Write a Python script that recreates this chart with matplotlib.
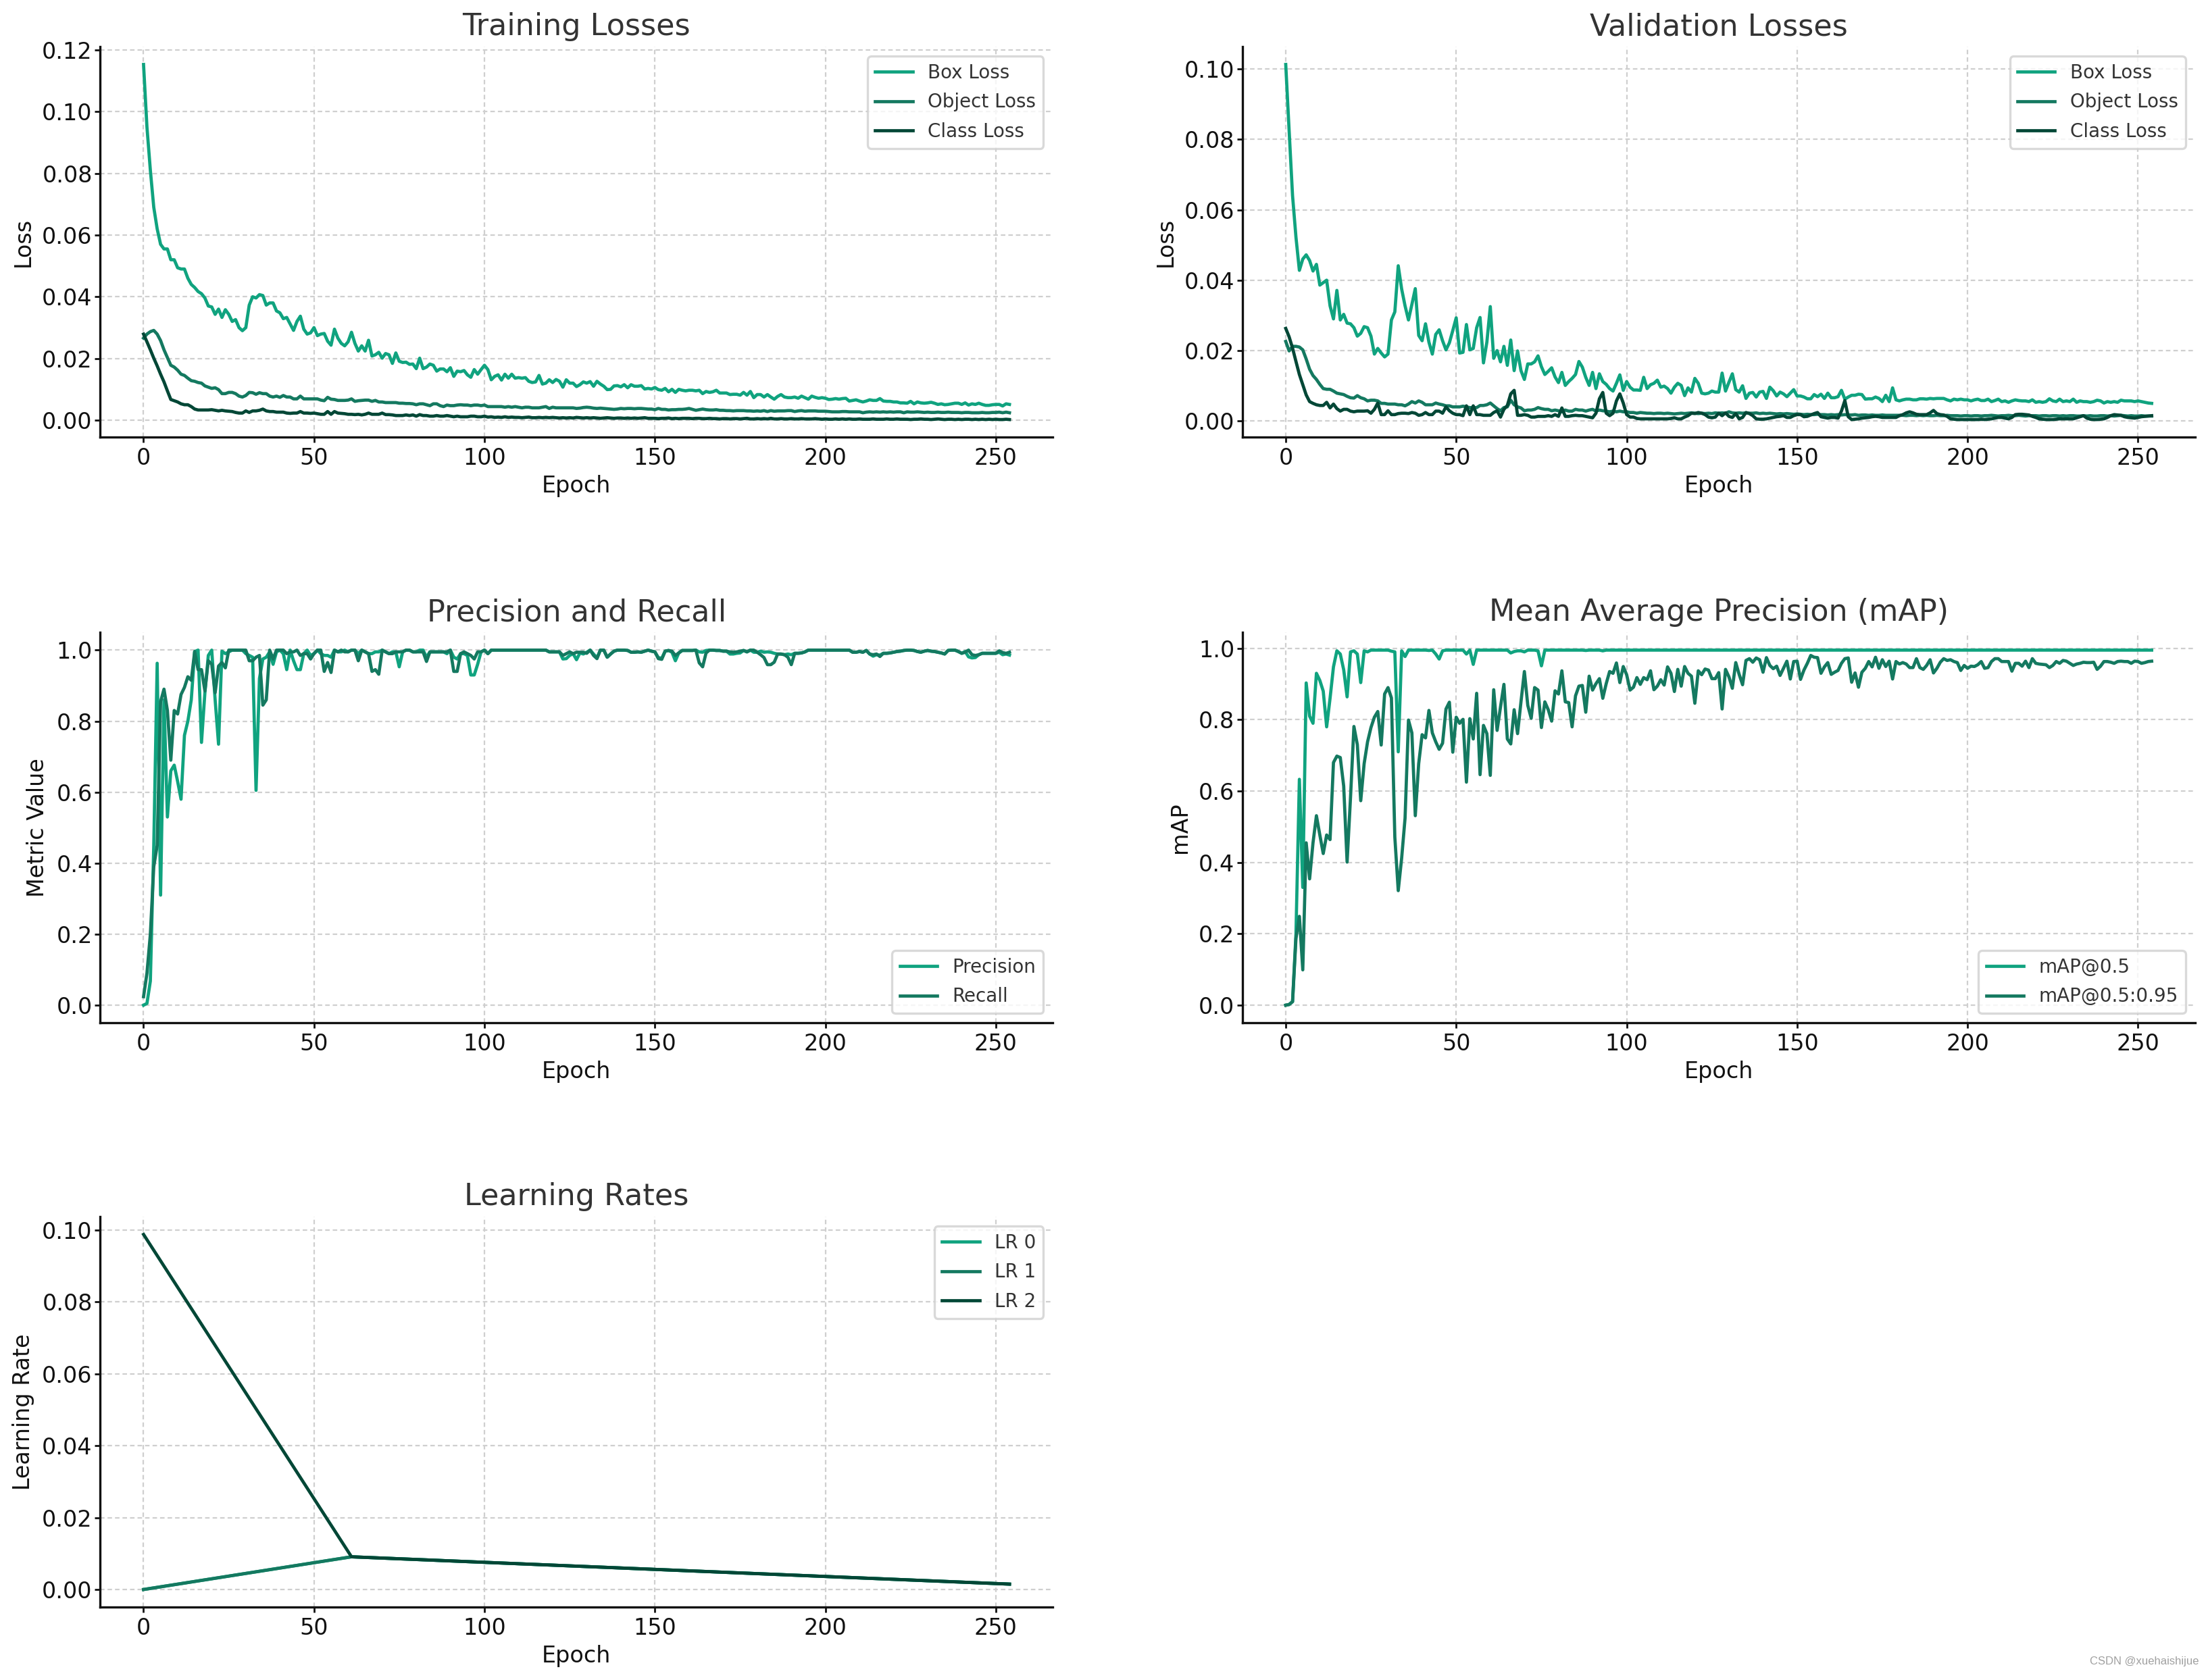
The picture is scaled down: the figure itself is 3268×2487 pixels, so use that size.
import matplotlib
matplotlib.use("Agg")
import matplotlib.pyplot as plt
import numpy as np

# ---------------- data ----------------
epochs = list(range(255))

train_box = [
0.1153,0.095,0.081,0.069,0.062,0.057,0.0555,0.0555,0.052,0.052,
0.0494,0.049,0.049,0.046,0.044,0.043,0.0417,0.041,0.0396,0.037,
0.0367,0.0343,0.036,0.0333,0.0358,0.0343,0.032,0.0326,0.030,0.029,
0.030,0.0373,0.040,0.0396,0.0407,0.0404,0.0373,0.038,0.038,0.0354,
0.0348,0.0329,0.0333,0.0312,0.0291,0.032,0.0337,0.0295,0.0279,0.0283,
0.030,0.0274,0.0279,0.0281,0.0256,0.0243,0.0295,0.0266,0.0249,0.0241,
0.0254,0.0285,0.0249,0.0224,0.0241,0.0224,0.0259,0.0208,0.0212,0.022,
0.0201,0.0216,0.0212,0.0184,0.0218,0.0191,0.0187,0.0188,0.0181,0.0182,
0.0167,0.0201,0.0167,0.0172,0.0182,0.0178,0.0159,0.0166,0.0166,0.0157,
0.017,0.0142,0.0159,0.0157,0.0161,0.0147,0.0139,0.0164,0.0149,0.0164,
0.0178,0.0164,0.0131,0.0142,0.0147,0.013,0.0149,0.0136,0.0149,0.0136,
0.0138,0.0136,0.0138,0.0126,0.0122,0.0124,0.0145,0.0117,0.012,0.0131,
0.0122,0.0132,0.0126,0.0107,0.0131,0.012,0.012,0.0109,0.0115,0.0124,
0.012,
0.0125,0.011,0.0126,0.0117,0.011,0.0099,0.0100,0.0111,0.0112,0.0108,
0.0115,0.0105,0.0115,0.011,0.011,0.0112,0.0101,0.0103,0.0101,0.0106,
0.0099,0.0097,0.0103,0.0092,0.0100,0.009,0.0100,0.0097,0.0095,0.0097,
0.0097,0.0095,0.0097,0.0086,0.0093,0.009,0.0092,0.0097,0.0088,0.0088,
0.0088,0.0083,0.0084,0.0084,0.0081,0.009,0.0081,0.0093,0.0073,0.0083,
0.0083,0.0075,0.0083,0.0075,0.0068,0.0077,0.0083,0.0075,0.0073,0.0073,
0.0075,0.0071,0.0078,0.0073,0.0068,0.0078,0.0074,0.0071,0.0073,0.0071,
0.0067,0.0068,0.007,0.0068,0.007,0.0071,0.0062,0.0064,0.0066,0.0062,
0.0059,0.0062,0.0066,0.0064,0.0064,0.007,0.0062,0.0061,0.0061,0.0059,
0.0059,0.0056,0.0056,0.0055,0.0061,0.0053,0.0059,0.0056,0.0055,0.0056,
0.0058,0.0055,0.0051,0.0053,0.005,0.0051,0.0053,0.0055,0.0055,0.0051,
0.0056,0.0049,0.0053,0.0051,0.0055,0.0051,0.0048,0.0048,0.005,0.0051,
0.0051,0.0046,0.0053,0.0051]

train_obj = [
0.0266,0.0279,0.0287,0.0291,0.0279,0.0258,0.0228,0.0203,0.0178,0.0172,
0.0162,0.0149,0.0145,0.0136,0.0128,0.0126,0.0122,0.012,0.0111,0.0107,
0.0103,0.0105,0.0099,0.0086,0.0086,0.009,0.009,0.0086,0.0078,0.0075,
0.008,0.009,0.0089,0.0084,0.0089,0.0086,0.0086,0.0078,0.0075,0.0078,
0.0074,0.008,0.0075,0.0075,0.0069,0.0069,0.0078,0.0069,0.0069,0.0069,
0.0069,0.0069,0.0065,0.0063,0.0074,0.0068,0.0067,0.0064,0.0064,0.0064,
0.0065,0.0069,0.0061,0.0063,0.0064,0.0065,0.0065,0.0061,0.0064,0.0059,
0.0059,0.0057,0.0057,0.0057,0.0057,0.0055,0.0055,0.0054,0.0054,0.0053,
0.005,0.0053,0.0053,0.005,0.0047,0.0053,0.0053,0.0047,0.0044,0.0049,
0.0047,0.0047,0.0049,0.005,0.0049,0.0049,0.0047,0.0049,0.0049,0.0047,
0.0049,0.0044,0.0044,0.0044,0.0044,0.0044,0.0042,0.0044,0.0042,0.0044,
0.0042,0.004,0.0042,0.0042,0.004,0.004,0.004,0.0042,0.0044,0.0038,
0.0042,0.004,0.004,0.004,0.004,0.004,0.004,0.0038,0.0039,0.0041,
0.0042,0.0041,0.0039,0.0038,0.0039,0.0038,0.0037,0.0036,0.0035,0.0036,
0.0038,0.0037,0.0038,0.0038,0.0037,0.0038,0.0038,0.0037,0.0036,0.0036,
0.0034,0.0038,0.0035,0.0035,0.0033,0.0034,0.0034,0.0035,0.0035,0.0036,
0.0038,0.0035,0.0032,0.0034,0.0036,0.0034,0.0033,0.0033,0.0034,0.0032,
0.0032,0.0031,0.0031,0.003,0.0031,0.0031,0.0031,0.003,0.003,0.0029,
0.003,0.0029,0.0031,0.0028,0.0031,0.0029,0.003,0.003,0.003,0.0031,
0.0031,0.0028,0.003,0.0031,0.0029,0.003,0.003,0.003,0.0029,0.0029,
0.0029,0.0028,0.0027,0.0027,0.0027,0.0028,0.0028,0.0027,0.0027,0.0027,
0.0027,0.0024,0.0026,0.0027,0.0026,0.0027,0.0026,0.0027,0.0026,0.0027,
0.0026,0.0027,0.0027,0.0024,0.0027,0.0026,0.0026,0.0027,0.0026,0.0025,
0.0026,0.0025,0.0025,0.0026,0.0025,0.0025,0.0026,0.0025,0.0025,0.0025,
0.0024,0.0025,0.0025,0.0024,0.0024,0.0024,0.0025,0.0024,0.0024,0.0025,
0.0025,0.0026,0.0024,0.0026,0.0024]

train_cls = [
0.0279,0.0254,0.0228,0.0201,0.0176,0.0149,0.0124,0.0095,0.0067,0.0063,
0.0059,0.0053,0.005,0.005,0.0044,0.0036,0.0033,0.0033,0.0033,0.0033,
0.0034,0.0032,0.003,0.0032,0.003,0.0029,0.0028,0.0025,0.0023,0.0023,
0.003,0.0025,0.003,0.003,0.0032,0.0036,0.003,0.0028,0.0028,0.0026,
0.0026,0.0026,0.0023,0.0022,0.0023,0.0023,0.0028,0.0023,0.0023,0.0022,
0.0023,0.0021,0.0019,0.0019,0.0028,0.0019,0.0028,0.0023,0.0022,0.0021,
0.0019,0.0019,0.0018,0.0019,0.0017,0.0019,0.0023,0.0019,0.0019,0.0019,
0.0023,0.0018,0.0018,0.0017,0.0015,0.0015,0.0015,0.0017,0.0015,0.0017,
0.0013,0.0018,0.0015,0.0015,0.0013,0.0013,0.0015,0.0013,0.0013,0.0015,
0.0013,0.0011,0.0013,0.0011,0.0011,0.0011,0.0013,0.0013,0.0011,0.0011,
0.0013,0.001,0.0011,0.0009,0.001,0.0009,0.0011,0.0009,0.001,0.0009,
0.0009,0.0008,0.0009,0.001,0.0008,0.0008,0.0009,0.0008,0.0009,0.0008,
0.0009,0.0008,0.0007,0.0008,0.0007,0.0008,0.0007,0.0009,0.0008,0.0007,
0.0008,0.0007,0.0008,0.0007,0.0006,0.0007,0.0008,0.0007,0.0006,0.0007,
0.0007,0.0006,0.0007,0.0006,0.0007,0.0006,0.0007,0.0008,0.0006,0.0006,
0.0006,0.0005,0.0006,0.0006,0.0007,0.0005,0.0006,0.0005,0.0006,0.0006,
0.0006,0.0005,0.0006,0.0006,0.0005,0.0005,0.0006,0.0005,0.0005,0.0004,
0.0005,0.0005,0.0004,0.0005,0.0005,0.0004,0.0005,0.0006,0.0004,0.0004,
0.0005,0.0004,0.0005,0.0004,0.0006,0.0004,0.0004,0.0005,0.0004,0.0004,
0.0005,0.0004,0.0004,0.0005,0.0004,0.0004,0.0004,0.0005,0.0004,0.0003,
0.0004,0.0003,0.0003,0.0004,0.0003,0.0004,0.0003,0.0004,0.0003,0.0003,
0.0004,0.0003,0.0003,0.0003,0.0004,0.0003,0.0003,0.0003,0.0004,0.0003,
0.0003,0.0004,0.0003,0.0003,0.0003,0.0002,0.0003,0.0003,0.0004,0.0003,
0.0003,0.0002,0.0003,0.0004,0.0003,0.0002,0.0003,0.0003,0.0002,0.0003,
0.0002,0.0003,0.0003,0.0002,0.0003,0.0002,0.0003,0.0002,0.0003,0.0002,
0.0003,0.0002,0.0002,0.0003,0.0002]

val_box = [
0.1013,0.0824,0.064,0.0522,0.0428,0.046,0.0472,0.0456,0.0426,0.0445,
0.0386,0.0393,0.04,0.0327,0.029,0.0371,0.0287,0.0303,0.0278,0.0276,
0.0265,0.0241,0.0249,0.0268,0.0265,0.0241,0.019,0.0206,0.0193,0.0182,
0.019,0.0287,0.031,0.0441,0.0375,0.0327,0.0287,0.0331,0.0376,0.0243,
0.0228,0.0276,0.0224,0.019,0.0246,0.0259,0.0228,0.0202,0.0222,0.0257,
0.0293,0.0193,0.0195,0.0274,0.0202,0.0206,0.0265,0.0294,0.0165,0.0224,
0.0325,0.0178,0.02,0.0168,0.0212,0.0158,0.023,0.0143,0.0199,0.0143,
0.0118,0.0162,0.0162,0.0168,0.0185,0.0154,0.0132,0.0141,0.0151,0.0125,
0.0109,0.0138,0.0101,0.0112,0.0121,0.0132,0.0169,0.0153,0.0124,0.0101,
0.0138,0.0092,0.0134,0.0112,0.0104,0.0092,0.0085,0.0107,0.0131,0.0087,
0.0112,0.0096,0.0088,0.0088,0.0087,0.0124,0.0092,0.0103,0.0107,0.0116,
0.0096,0.0099,0.0092,0.0079,0.0096,0.0107,0.0101,0.0072,0.0094,0.0082,
0.0121,0.0107,0.0079,0.0077,0.0079,0.0085,0.0082,0.0082,0.0136,0.0085,
0.011,0.0134,0.0089,0.0082,0.01,0.0064,0.0079,0.0081,0.0068,0.0082,
0.0084,0.0064,0.0096,0.0086,0.0071,0.0082,0.0077,0.0069,0.0079,0.0089,
0.0071,0.0071,0.0068,0.0063,0.0063,0.0075,0.0069,0.0076,0.0064,0.0079,
0.0066,0.0066,0.0069,0.0087,0.0062,0.0068,0.0073,0.0073,0.0076,0.0075,
0.0062,0.0063,0.0063,0.0068,0.0064,0.0055,0.0073,0.0055,0.0094,0.006,
0.0057,0.006,0.0062,0.0062,0.006,0.006,0.0063,0.0063,0.0062,0.0064,
0.0063,0.0064,0.0064,0.0064,0.006,0.0057,0.0062,0.006,0.0062,0.006,
0.006,0.0057,0.006,0.0062,0.0058,0.0058,0.0062,0.0055,0.0058,0.0062,
0.0055,0.0057,0.0053,0.0057,0.006,0.0058,0.0057,0.0057,0.0055,0.006,
0.0053,0.0055,0.0053,0.0055,0.0063,0.0057,0.0055,0.0062,0.0055,0.0057,
0.0055,0.0062,0.0053,0.0057,0.0055,0.0055,0.0053,0.0055,0.0059,0.0057,
0.0051,0.0055,0.0053,0.0055,0.0053,0.0059,0.0057,0.0057,0.0057,0.0055,
0.0057,0.0055,0.0053,0.0051,0.005]

val_obj = [
0.0226,0.0199,0.0212,0.0212,0.021,0.0202,0.0176,0.0147,0.0129,0.0118,
0.0104,0.0092,0.009,0.009,0.0085,0.0079,0.0077,0.0075,0.007,0.0066,
0.0065,0.0072,0.0066,0.0063,0.0057,0.0059,0.0059,0.0057,0.005,0.005,
0.0048,0.0048,0.0048,0.0046,0.0046,0.0043,0.0048,0.0055,0.0051,0.0057,
0.0053,0.0046,0.0046,0.0046,0.0051,0.0048,0.0046,0.0043,0.0043,0.004,
0.004,0.004,0.0042,0.004,0.0038,0.0038,0.0038,0.0044,0.0044,0.0046,
0.0051,0.0043,0.0035,0.0029,0.0038,0.004,0.0059,0.0046,0.004,0.0037,
0.0029,0.0031,0.0031,0.0033,0.0038,0.0035,0.0033,0.0033,0.0029,0.0031,
0.0029,0.0026,0.0031,0.0028,0.0028,0.0033,0.0031,0.0031,0.0028,0.0031,
0.0033,0.0028,0.0031,0.0029,0.0028,0.0026,0.0028,0.0026,0.0028,0.0026,
0.0026,0.0024,0.0024,0.0022,0.0024,0.0023,0.0022,0.0022,0.0021,0.0022,
0.0022,0.0021,0.0022,0.0021,0.002,0.0021,0.0022,0.0021,0.0022,0.0023,
0.0022,0.0021,0.0022,0.0021,0.0022,0.0021,0.0023,0.0022,0.0023,0.0022,
0.0026,0.0023,0.0022,0.0023,0.0022,0.0023,0.0022,0.0022,0.0023,0.0021,
0.0022,0.0021,0.0022,0.0021,0.002,0.0021,0.002,0.0021,0.002,0.0019,
0.002,0.0019,0.0018,0.0019,0.0018,0.0018,0.0019,0.0018,0.0018,0.0017,
0.0018,0.0017,0.0018,0.0017,0.0018,0.0017,0.0017,0.0018,0.0016,0.0017,
0.0017,0.0016,0.0017,0.0016,0.0016,0.0017,0.0016,0.0016,0.0016,0.0016,
0.0016,0.0016,0.0015,0.0016,0.0016,0.0015,0.0016,0.0015,0.0016,0.0015,
0.0015,0.0016,0.0015,0.0015,0.0016,0.0015,0.0015,0.0015,0.0014,0.0015,
0.0015,0.0014,0.0015,0.0015,0.0014,0.0015,0.0015,0.0016,0.0015,0.0014,
0.0015,0.0015,0.0016,0.0015,0.0015,0.0016,0.0015,0.0014,0.0015,0.0015,
0.0015,0.0014,0.0015,0.0015,0.0014,0.0015,0.0015,0.0014,0.0015,0.0014,
0.0015,0.0015,0.0014,0.0014,0.0015,0.0014,0.0015,0.0014,0.0014,0.0015,
0.0015,0.0014,0.0015,0.0014,0.0015,0.0016,0.0015,0.0014,0.0015,0.0014,
0.0014,0.0015,0.0014,0.0014,0.0014]

val_cls = [
0.0263,0.0239,0.0207,0.0169,0.0132,0.0103,0.0074,0.0055,0.005,0.0046,
0.0044,0.0044,0.0053,0.0037,0.0048,0.0035,0.0028,0.0033,0.0033,0.0028,
0.0026,0.0028,0.0028,0.0028,0.0029,0.0022,0.0033,0.0051,0.0018,0.0018,
0.0029,0.0018,0.0018,0.0021,0.0022,0.0022,0.0021,0.0024,0.0022,0.0016,
0.0018,0.0024,0.0018,0.0018,0.0028,0.0028,0.0022,0.004,0.0029,0.0022,
0.0018,0.0018,0.0015,0.0043,0.0018,0.0043,0.0018,0.0018,0.0016,0.0016,
0.0016,0.0024,0.0029,0.0011,0.0033,0.0044,0.0077,0.0087,0.0016,0.0016,
0.0018,0.0016,0.0011,0.0011,0.0013,0.0013,0.0013,0.0015,0.0013,0.0018,
0.0013,0.0037,0.0013,0.0013,0.0015,0.0016,0.0015,0.0015,0.0013,0.0011,
0.0009,0.0022,0.0063,0.0081,0.0022,0.0015,0.0022,0.0057,0.0077,0.0051,
0.0018,0.0011,0.0011,0.0007,0.0006,0.0006,0.0006,0.0006,0.0006,0.0006,
0.0006,0.0006,0.0006,0.0007,0.0009,0.0006,0.0006,0.0011,0.0015,0.0022,
0.0021,0.0024,0.0022,0.0018,0.0011,0.0009,0.0011,0.0022,0.0015,0.0023,
0.0013,0.001,0.0021,0.0006,0.001,0.0024,0.0021,0.0015,0.0006,0.0005,
0.0005,0.0006,0.0008,0.001,0.0012,0.0013,0.0015,0.001,0.001,0.0015,
0.0018,0.0018,0.0012,0.0013,0.0017,0.0021,0.0024,0.0012,0.001,0.0008,
0.001,0.001,0.0008,0.0028,0.0058,0.0012,0.0004,0.0005,0.0006,0.0008,
0.0009,0.001,0.0012,0.0013,0.0012,0.001,0.001,0.001,0.001,0.001,
0.0015,0.0018,0.0023,0.0026,0.0023,0.0019,0.0018,0.0018,0.0018,0.0023,
0.003,0.0021,0.0018,0.0017,0.0013,0.0006,0.0005,0.0004,0.0004,0.0004,
0.0004,0.0004,0.0004,0.0004,0.0005,0.0004,0.0005,0.0006,0.0008,0.001,
0.001,0.0008,0.0006,0.001,0.0018,0.0019,0.0019,0.0018,0.0017,0.0013,
0.001,0.0006,0.0005,0.0004,0.0004,0.0004,0.0005,0.0006,0.0006,0.0006,
0.0006,0.0006,0.0009,0.0012,0.0015,0.0008,0.0005,0.0004,0.0004,0.0005,
0.0006,0.001,0.0015,0.0018,0.0017,0.0016,0.0012,0.001,0.0009,0.0008,
0.001,0.0012,0.0013,0.0014,0.0015]

precision = [
0.0,0.005,0.068,0.45,0.963,0.31,0.86,0.53,0.66,0.676,
0.63,0.58,0.76,0.80,0.86,0.996,1.0,0.74,0.88,0.985,
1.0,0.86,0.735,0.997,0.99,0.995,1.0,1.0,1.0,1.0,
0.99,0.985,0.98,0.605,0.92,0.975,0.98,0.995,0.96,0.995,
1.0,0.99,0.945,1.0,0.97,0.945,0.945,0.99,1.0,0.985,
0.99,1.0,0.99,0.985,0.985,0.98,1.0,0.995,0.995,1.0,
0.995,1.0,1.0,0.99,1.0,0.995,0.99,0.99,0.995,0.995,
1.0,0.995,0.99,0.995,0.995,0.953,0.995,1.0,1.0,0.995,
0.995,1.0,1.0,0.98,0.995,0.995,0.995,0.995,0.995,0.99,
1.0,0.98,0.975,0.99,0.99,0.985,0.93,0.93,0.96,0.995,
1.0,0.99,1.0,1.0,1.0,1.0,1.0,1.0,1.0,1.0,
1.0,1.0,1.0,1.0,1.0,1.0,1.0,1.0,1.0,0.995,
0.995,0.995,0.995,0.975,0.976,0.985,0.99,0.973,0.992,0.989,
0.994,1.0,0.989,0.978,1.0,1.0,0.98,0.989,0.997,1.0,
1.0,1.0,0.999,0.994,0.994,0.995,0.994,0.997,1.0,0.997,
0.995,0.979,0.977,0.997,0.999,0.994,0.97,0.992,0.999,0.999,
0.999,0.999,1.0,0.995,0.994,0.999,1.0,1.0,0.999,0.999,
0.997,0.997,0.989,0.989,0.991,0.992,0.999,0.995,1.0,0.994,
0.994,0.997,0.994,0.995,0.994,0.991,0.989,0.989,0.987,0.989,
0.987,0.991,0.991,0.992,0.995,1.0,1.0,1.0,1.0,1.0,
1.0,1.0,1.0,1.0,1.0,1.0,1.0,1.0,0.994,0.994,
0.996,0.994,0.999,0.989,0.983,0.987,0.986,0.991,0.991,0.992,
0.994,0.996,0.997,0.999,1.0,1.0,0.999,0.996,0.994,0.997,
0.999,0.997,0.996,0.994,0.992,0.989,0.999,1.0,1.0,0.996,
0.991,0.996,0.981,0.978,0.979,0.987,0.991,0.991,0.991,0.991,
0.991,0.994,0.987,0.989,0.986]

recall = [
0.024,0.09,0.2,0.39,0.45,0.855,0.89,0.83,0.69,0.83,
0.82,0.875,0.895,0.925,0.915,0.996,0.945,0.945,0.885,0.97,
0.96,0.88,0.955,0.965,0.95,1.0,1.0,1.0,1.0,1.0,
1.0,0.97,0.97,0.98,0.985,0.845,0.86,1.0,0.975,1.0,
1.0,1.0,0.99,0.995,0.995,1.0,0.985,0.99,0.99,0.975,
0.99,1.0,1.0,0.94,0.965,0.937,1.0,0.995,1.0,0.995,
0.995,1.0,1.0,0.97,1.0,0.995,0.99,0.94,0.945,0.932,
1.0,0.995,0.99,0.99,0.995,0.995,0.995,1.0,1.0,0.995,
0.995,0.995,0.995,0.968,0.995,0.995,0.995,0.995,0.995,0.995,
1.0,0.94,0.94,0.99,0.995,0.99,0.985,0.975,0.995,0.995,
1.0,0.99,1.0,1.0,1.0,1.0,1.0,1.0,1.0,1.0,
1.0,1.0,1.0,1.0,1.0,1.0,1.0,1.0,1.0,0.995,
0.995,0.995,0.995,0.985,0.99,0.995,0.99,0.994,0.994,0.994,
0.991,1.0,0.985,0.976,1.0,1.0,0.98,0.989,0.997,1.0,
1.0,1.0,0.999,0.994,0.994,0.995,0.994,0.997,1.0,0.997,
0.995,0.976,0.974,0.997,0.999,0.997,0.985,0.992,0.999,0.999,
0.999,0.999,1.0,0.964,0.953,0.992,1.0,1.0,0.999,0.999,
0.997,0.997,0.995,0.994,0.995,0.997,0.999,0.995,1.0,1.0,
0.994,0.987,0.979,0.959,0.959,0.966,0.989,0.989,0.987,0.98,
0.959,0.991,0.991,0.992,0.995,1.0,1.0,1.0,1.0,1.0,
1.0,1.0,1.0,1.0,1.0,1.0,1.0,1.0,0.994,0.994,
0.996,0.994,0.999,0.989,0.987,0.989,0.982,0.991,0.991,0.992,
0.994,0.996,0.997,0.999,1.0,1.0,0.999,0.996,0.994,0.997,
0.999,0.997,0.996,0.994,0.992,0.989,0.999,1.0,1.0,0.996,
0.991,0.994,1.0,0.987,0.985,0.987,0.991,0.991,0.991,0.991,
0.991,0.998,0.993,0.991,0.994]

map50 = [
0.0,0.002,0.01,0.2,0.633,0.33,0.903,0.81,0.79,0.93,
0.91,0.88,0.78,0.86,0.948,0.993,0.984,0.94,0.864,0.99,
0.993,0.984,0.904,0.993,0.99,0.995,0.995,0.995,0.995,0.995,
0.995,0.992,0.99,0.71,0.993,0.977,0.995,0.995,0.995,0.995,
0.995,0.995,0.994,0.995,0.984,0.97,0.993,0.995,0.995,0.995,
0.995,0.995,0.995,0.984,0.995,0.955,0.995,0.995,0.995,0.995,
0.995,0.995,0.995,0.995,0.995,0.995,0.987,0.991,0.993,0.993,
0.99,0.995,0.995,0.995,0.993,0.951,0.995,0.995,0.995,0.995,
0.995,0.995,0.995,0.995,0.995,0.995,0.995,0.995,0.994,0.995,
0.995,0.995,0.995,0.993,0.995,0.995,0.995,0.995,0.995,0.995,
0.995,0.995,0.995,0.995,0.995,0.995,0.995,0.995,0.995,0.995,
0.995,0.995,0.995,0.995,0.995,0.995,0.995,0.995,0.995,0.995,
0.995,0.995,0.995,0.995,0.995,0.995,0.995,0.995,0.995,0.995,
0.995,0.995,0.995,0.995,0.995,0.995,0.995,0.995,0.995,0.995,
0.995,0.995,0.995,0.995,0.995,0.995,0.995,0.995,0.995,0.995,
0.995,0.995,0.995,0.995,0.995,0.995,0.995,0.995,0.995,0.995,
0.995,0.995,0.995,0.995,0.995,0.995,0.995,0.995,0.995,0.995,
0.995,0.995,0.995,0.995,0.995,0.995,0.995,0.995,0.995,0.995,
0.995,0.995,0.995,0.995,0.995,0.995,0.995,0.995,0.995,0.995,
0.995,0.995,0.995,0.995,0.995,0.995,0.995,0.995,0.995,0.995,
0.995,0.995,0.995,0.995,0.995,0.995,0.995,0.995,0.995,0.995,
0.995,0.995,0.995,0.995,0.995,0.995,0.995,0.995,0.995,0.995,
0.995,0.995,0.995,0.995,0.995,0.995,0.995,0.995,0.995,0.995,
0.995,0.995,0.995,0.995,0.995,0.995,0.995,0.995,0.995,0.995,
0.995,0.995,0.995,0.995,0.995,0.995,0.995,0.995,0.995,0.995,
0.995,0.995,0.995,0.995,0.995]

map50_95 = [
0.0,0.002,0.01,0.187,0.249,0.099,0.455,0.354,0.455,0.531,
0.477,0.425,0.477,0.464,0.68,0.698,0.694,0.614,0.401,0.582,
0.781,0.73,0.573,0.677,0.738,0.778,0.807,0.823,0.729,0.872,
0.89,0.861,0.471,0.321,0.412,0.524,0.799,0.763,0.531,0.677,
0.758,0.749,0.826,0.763,0.738,0.717,0.734,0.83,0.849,0.709,
0.807,0.79,0.801,0.625,0.803,0.746,0.874,0.646,0.784,0.761,
0.644,0.884,0.77,0.836,0.899,0.746,0.732,0.828,0.761,0.85,
0.935,0.84,0.804,0.89,0.883,0.778,0.85,0.828,0.796,0.881,
0.872,0.937,0.85,0.848,0.78,0.867,0.894,0.896,0.821,0.922,
0.883,0.901,0.915,0.86,0.901,0.935,0.93,0.959,0.904,0.949,
0.926,0.883,0.891,0.918,0.899,0.918,0.912,0.937,0.884,0.894,
0.912,0.897,0.948,0.93,0.879,0.941,0.894,0.949,0.93,0.922,
0.846,0.937,0.926,0.942,0.939,0.915,0.915,0.932,0.83,0.941,
0.92,0.888,0.96,0.927,0.898,0.966,0.971,0.961,0.973,0.968,
0.933,0.974,0.952,0.943,0.95,0.924,0.944,0.964,0.914,0.963,
0.964,0.913,0.939,0.958,0.98,0.975,0.974,0.93,0.948,0.96,
0.927,0.933,0.938,0.958,0.971,0.973,0.905,0.931,0.891,0.933,
0.944,0.963,0.948,0.975,0.944,0.968,0.949,0.964,0.914,0.963,
0.956,0.96,0.956,0.946,0.946,0.971,0.946,0.941,0.952,0.968,
0.931,0.944,0.961,0.971,0.966,0.968,0.963,0.96,0.938,0.952,
0.944,0.95,0.949,0.954,0.963,0.944,0.946,0.963,0.971,0.971,
0.963,0.963,0.963,0.936,0.958,0.958,0.95,0.964,0.946,0.971,
0.958,0.956,0.955,0.954,0.946,0.952,0.963,0.958,0.966,0.964,
0.958,0.952,0.956,0.958,0.961,0.96,0.96,0.961,0.941,0.95,
0.963,0.963,0.961,0.958,0.963,0.964,0.963,0.963,0.958,0.964,
0.963,0.958,0.96,0.963,0.964]

lr_epochs = [0, 61, 254]
lr0 = [0.0, 0.0091, 0.0015]
lr1 = [0.0, 0.0091, 0.0015]
lr2 = [0.0988, 0.0091, 0.0015]

# ---------------- style ----------------
C_LIGHT = "#10A37F"
C_MID = "#147960"
C_DARK = "#024736"
TXT = "#333333"

plt.rcParams["font.family"] = ["DejaVu Sans"]

fig = plt.figure(figsize=(16.34, 12.435), dpi=200)

col_x = [0.0454, 0.5627]
col_w = 0.4314
row_y = [0.7397, 0.3911, 0.0433]
row_h = 0.2325


def make_ax(r, c):
    return fig.add_axes([col_x[c], row_y[r], col_w, row_h])


def style(ax, title, ylabel, legend_loc):
    ax.set_title(title, fontsize=16, color=TXT, pad=6)
    ax.set_xlabel("Epoch", fontsize=12, color="#111111", labelpad=3)
    ax.set_ylabel(ylabel, fontsize=12, color="#111111", labelpad=4)
    ax.tick_params(axis="both", labelsize=12, colors="#111111", length=3, width=1)
    ax.tick_params(axis="x", pad=2.2)
    ax.tick_params(axis="y", pad=1.2)
    for s in ["top", "right"]:
        ax.spines[s].set_visible(False)
    for s in ["left", "bottom"]:
        ax.spines[s].set_linewidth(1.2)
        ax.spines[s].set_color("#111111")
    ax.grid(True, linestyle=(0, (3, 2)), color="#cfcfcf", linewidth=0.8)
    ax.set_axisbelow(True)
    leg = ax.legend(loc=legend_loc, fontsize=10, frameon=True, fancybox=True,
                    framealpha=0.8, borderpad=0.4, labelspacing=0.55)
    leg.get_frame().set_edgecolor("#d0d0d0")
    leg.get_frame().set_linewidth(1.2)
    for t in leg.get_texts():
        t.set_color(TXT)


LW = 1.7

ax1 = make_ax(0, 0)
ax1.plot(epochs, train_box, color=C_LIGHT, lw=LW, label="Box Loss")
ax1.plot(epochs, train_obj, color=C_MID, lw=LW, label="Object Loss")
ax1.plot(epochs, train_cls, color=C_DARK, lw=LW, label="Class Loss")
style(ax1, "Training Losses", "Loss", "upper right")

ax2 = make_ax(0, 1)
ax2.plot(epochs, val_box, color=C_LIGHT, lw=LW, label="Box Loss")
ax2.plot(epochs, val_obj, color=C_MID, lw=LW, label="Object Loss")
ax2.plot(epochs, val_cls, color=C_DARK, lw=LW, label="Class Loss")
style(ax2, "Validation Losses", "Loss", "upper right")

ax3 = make_ax(1, 0)
ax3.plot(epochs, precision, color=C_LIGHT, lw=LW, label="Precision")
ax3.plot(epochs, recall, color=C_MID, lw=LW, label="Recall")
style(ax3, "Precision and Recall", "Metric Value", "lower right")

ax4 = make_ax(1, 1)
ax4.plot(epochs, map50, color=C_LIGHT, lw=LW, label="mAP@0.5")
ax4.plot(epochs, map50_95, color=C_MID, lw=LW, label="mAP@0.5:0.95")
style(ax4, "Mean Average Precision (mAP)", "mAP", "lower right")

ax5 = make_ax(2, 0)
ax5.plot(lr_epochs, lr0, color=C_LIGHT, lw=LW, label="LR 0")
ax5.plot(lr_epochs, lr1, color=C_MID, lw=LW, label="LR 1")
ax5.plot(lr_epochs, lr2, color=C_DARK, lw=LW, label="LR 2")
style(ax5, "Learning Rates", "Learning Rate", "upper right")

fig.text(0.996, 0.011, "CSDN @xuehaishijue", ha="right", va="center",
         fontsize=6, color="#a0a0a0", family=["Liberation Sans", "DejaVu Sans"])

fig.savefig("out.png", dpi=200)
